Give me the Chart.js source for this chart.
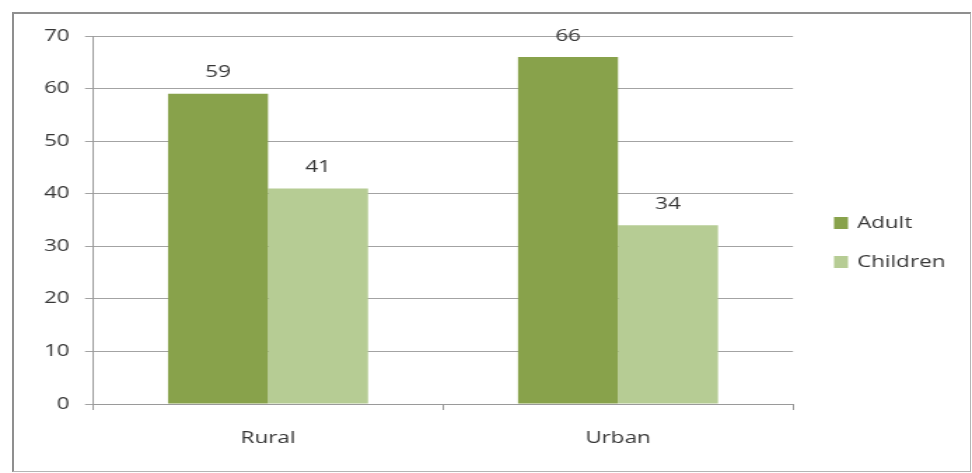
<!DOCTYPE html>
<html>
<head>
<meta charset="utf-8">
<script src="https://cdn.jsdelivr.net/npm/chart.js@4"></script>
<style>
  html, body { margin: 0; padding: 0; background: #fff; }
  #wrap { position: relative; width: 972px; height: 473px; }
  #frame {
    position: absolute; left: 12px; top: 12px; width: 956px; height: 457px;
    border-top: 2px solid #8f8f8f; border-left: 2px solid #8f8f8f;
    border-right: 1px solid #b5b5b5; border-bottom: 1px solid #b5b5b5;
  }
  #chart { position: absolute; left: 0; top: 0; }
</style>
</head>
<body>
<div id="wrap">
  <div id="frame"></div>
  <!-- the original picture is stretched sideways, so the canvas is too -->
  <canvas id="chart" width="694" height="473" style="width:972px;height:473px"></canvas>
</div>
<script>
// values
const categories = ['Rural', 'Urban'];
const adult = [59, 66];
const children = [41, 34];
const yTicks = [0, 10, 20, 30, 40, 50, 60, 70];

const FONT = "'Open Sans', sans-serif";
const textColor = '#363636';
const SX = 972 / 694; // horizontal stretch

// value labels above each bar
const valueLabels = {
  id: 'valueLabels',
  afterDatasetsDraw(chart) {
    const ctx = chart.ctx;
    ctx.save();
    ctx.font = '16px ' + FONT;
    ctx.fillStyle = textColor;
    ctx.textAlign = 'center';
    ctx.textBaseline = 'middle';
    chart.data.datasets.forEach((ds, i) => {
      chart.getDatasetMeta(i).data.forEach((bar, j) => {
        ctx.fillText(ds.data[j], bar.x, bar.y - 21);
      });
    });
    ctx.restore();
  }
};

// legend drawn to the right of the plot
const sideLegend = {
  id: 'sideLegend',
  afterDraw(chart) {
    const ctx = chart.ctx;
    const x = 834 / SX;
    const rows = [223, 262];
    ctx.save();
    ctx.font = '16px ' + FONT;
    ctx.textBaseline = 'middle';
    chart.data.datasets.forEach((ds, i) => {
      ctx.fillStyle = ds.backgroundColor;
      ctx.fillRect(x, rows[i] - 6, 14 / SX, 12);
      ctx.fillStyle = textColor;
      ctx.fillText(ds.label, x + 23 / SX, rows[i]);
    });
    ctx.restore();
  }
};

new Chart(document.getElementById('chart'), {
  type: 'bar',
  data: {
    labels: categories,
    datasets: [
      { label: 'Adult', data: adult, backgroundColor: '#88a24b' },
      { label: 'Children', data: children, backgroundColor: '#b6cc94' }
    ]
  },
  options: {
    responsive: false,
    animation: false,
    layout: { padding: { top: 36, right: 694 - 793 / SX, left: 0, bottom: 0 } },
    plugins: {
      legend: { display: false },
      tooltip: { enabled: false }
    },
    datasets: {
      bar: { barPercentage: 1, categoryPercentage: 200 / 350 }
    },
    scales: {
      x: {
        grid: { drawOnChartArea: false, drawTicks: true, tickLength: 6, color: '#9a9a9a', offset: true },
        border: { color: '#9a9a9a', width: 1 },
        ticks: { font: { family: FONT, size: 16 }, color: textColor, padding: 19 },
        afterFit(scale) { scale.height = 69; }
      },
      y: {
        min: 0,
        max: 70,
        afterBuildTicks(scale) { scale.ticks = yTicks.map(v => ({ value: v })); },
        grid: { color: '#a3a3a3', tickLength: 8 / SX },
        border: { color: '#9a9a9a', width: 1 },
        ticks: { font: { family: FONT, size: 16 }, color: textColor, padding: 11 },
        afterFit(scale) { scale.width = 93 / SX; }
      }
    }
  },
  plugins: [valueLabels, sideLegend]
});
</script>
</body>
</html>
